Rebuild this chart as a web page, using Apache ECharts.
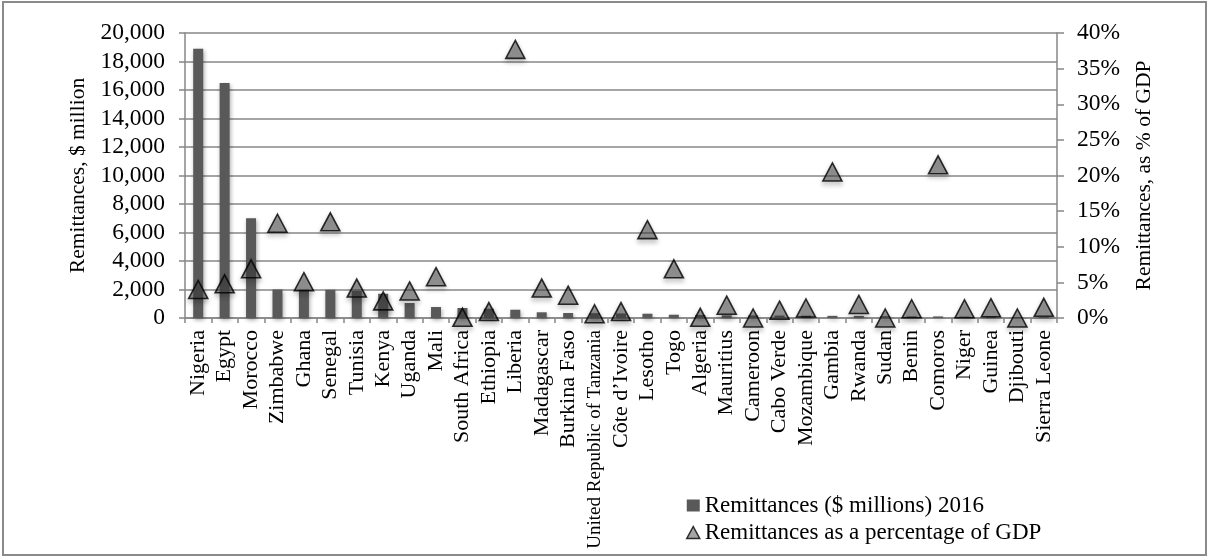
<!DOCTYPE html>
<html>
<head>
<meta charset="utf-8">
<script src="https://cdn.jsdelivr.net/npm/echarts@6/dist/echarts.min.js"></script>
<style>
  html, body { margin: 0; padding: 0; background: #fff; }
  #chart { width: 1209px; height: 557px; }
</style>
</head>
<body>
<div id="chart"></div>
<script>
const countries = ["Nigeria", "Egypt", "Morocco", "Zimbabwe", "Ghana", "Senegal", "Tunisia", "Kenya", "Uganda", "Mali",
  "South Africa", "Ethiopia", "Liberia", "Madagascar", "Burkina Faso", "United Republic of Tanzania", "Côte d’Ivoire",
  "Lesotho", "Togo", "Algeria", "Mauritius", "Cameroon", "Cabo Verde", "Mozambique", "Gambia", "Rwanda", "Sudan",
  "Benin", "Comoros", "Niger", "Guinea", "Djibouti", "Sierra Leone"];

const remittancesMillions = [18900, 16500, 7000, 2000, 2000, 1980, 1900, 1700, 1050, 770,
  700, 650, 580, 400, 350, 340, 320, 300, 230, 210, 190, 180, 170, 160, 150, 150, 130,
  120, 110, 100, 90, 70, 60];

const remittancesPctGDP = [4.0, 4.8, 6.9, 13.3, 5.1, 13.5, 4.2, 2.4, 3.8, 5.8,
  0.1, 0.9, 37.7, 4.2, 3.2, 0.6, 0.9, 12.4, 6.9, 0.1, 1.8, 0.0, 1.1, 1.4, 20.5, 1.9, 0.0,
  1.3, 21.5, 1.3, 1.45, 0.0, 1.5];

const leftTicks = { min: 0, max: 20000, interval: 2000 };
const rightTicks = { min: 0, max: 40, interval: 5 };

const seriesNames = ["Remittances ($ millions) 2016", "Remittances as a percentage of GDP"];
const leftAxisName = "Remittances, $ million";
const rightAxisName = "Remittances, as % of GDP";

const FONT = "Liberation Serif, Times New Roman, serif";
const GREY = "#878787";

const chart = echarts.init(document.getElementById('chart'), null, { renderer: 'canvas' });

chart.setOption({
  animation: false,
  backgroundColor: '#fff',
  textStyle: { fontFamily: FONT, color: '#000' },
  graphic: [{
    type: 'rect',
    shape: { x: 3, y: 2, width: 1203, height: 553 },
    style: { fill: 'none', stroke: '#8a8a8a', lineWidth: 2 },
    silent: true
  }],
  grid: { left: 185, right: 152, top: 33, bottom: 239, containLabel: false },
  legend: {
    orient: 'vertical',
    left: 681,
    top: 489,
    itemGap: 4,
    itemWidth: 13,
    itemHeight: 12,
    textStyle: { fontFamily: FONT, fontSize: 23, color: '#000' },
    data: [
      { name: seriesNames[0], icon: 'rect', itemStyle: { color: '#595959', borderWidth: 0 },
        textStyle: { fontFamily: FONT, fontSize: 23, color: '#000' } },
      { name: seriesNames[1], icon: 'triangle', itemStyle: { color: '#8f8f8f', borderColor: '#000', borderWidth: 1.5 },
        textStyle: { fontFamily: FONT, fontSize: 23, color: '#000' } }
    ]
  },
  xAxis: {
    type: 'category',
    data: countries,
    boundaryGap: true,
    axisLine: { show: true, lineStyle: { color: GREY, width: 1.5 } },
    axisTick: { show: true, length: 5, alignWithLabel: false, interval: 0, lineStyle: { color: GREY, width: 1.5 } },
    axisLabel: {
      interval: 0,
      rotate: 90,
      margin: 12,
      fontFamily: FONT,
      fontSize: 22,
      color: '#000',
      formatter: function (v) {
        return v.length > 20 ? '{s|' + v + '}' : v;
      },
      rich: { s: { fontFamily: FONT, fontSize: 19, color: '#000' } }
    }
  },
  yAxis: [{
    type: 'value',
    min: leftTicks.min, max: leftTicks.max, interval: leftTicks.interval,
    position: 'left',
    name: leftAxisName,
    nameLocation: 'middle',
    nameGap: 96,
    nameRotate: 90,
    nameTextStyle: { fontFamily: FONT, fontSize: 21.5, color: '#000' },
    axisLine: { show: true, lineStyle: { color: GREY, width: 1.5 } },
    axisTick: { show: true, length: 6, lineStyle: { color: GREY, width: 1.5 } },
    axisLabel: {
      margin: 20, fontFamily: FONT, fontSize: 23.5, color: '#000',
      formatter: function (v) { return v.toLocaleString('en-US'); }
    },
    splitLine: { show: true, lineStyle: { color: GREY, width: 1.5 } }
  }, {
    type: 'value',
    min: rightTicks.min, max: rightTicks.max, interval: rightTicks.interval,
    position: 'right',
    name: rightAxisName,
    nameLocation: 'middle',
    nameGap: 76,
    nameRotate: 90,
    nameTextStyle: { fontFamily: FONT, fontSize: 21.5, color: '#000' },
    axisLine: { show: true, lineStyle: { color: GREY, width: 1.5 } },
    axisTick: { show: true, length: 7, lineStyle: { color: GREY, width: 1.5 } },
    axisLabel: {
      margin: 20, fontFamily: FONT, fontSize: 23.5, color: '#000',
      formatter: '{value}%'
    },
    splitLine: { show: false }
  }],
  series: [{
    name: seriesNames[0],
    type: 'bar',
    yAxisIndex: 0,
    data: remittancesMillions,
    barWidth: 10,
    itemStyle: {
      color: '#595959',
      shadowColor: 'rgba(0,0,0,0.35)',
      shadowBlur: 4,
      shadowOffsetX: 1,
      shadowOffsetY: 2
    },
    z: 2
  }, {
    name: seriesNames[1],
    type: 'scatter',
    yAxisIndex: 1,
    data: remittancesPctGDP,
    symbol: 'triangle',
    symbolSize: [19, 18],
    itemStyle: {
      color: 'rgba(70,70,70,0.6)',
      borderColor: '#000',
      borderWidth: 1.6,
      shadowColor: 'rgba(0,0,0,0.35)',
      shadowBlur: 5,
      shadowOffsetY: 3
    },
    z: 3
  }]
});
</script>
</body>
</html>
